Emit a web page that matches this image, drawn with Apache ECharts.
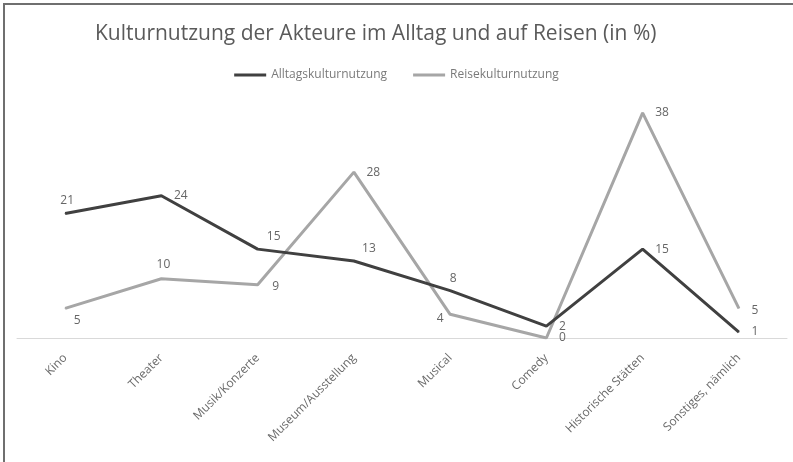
<!DOCTYPE html>
<html>
<head>
<meta charset="utf-8">
<script src="https://cdn.jsdelivr.net/npm/echarts@6/dist/echarts.min.js"></script>
<style>
  html, body { margin: 0; padding: 0; background: #fff; }
  #frame { position: absolute; left: 3px; top: 3px; width: 790px; height: 459px;
           border-left: 2px solid #6f6f6f; border-top: 2px solid #6f6f6f; box-sizing: border-box; }
  #chart { position: absolute; left: 0; top: 0; width: 793px; height: 462px; }
</style>
</head>
<body>
<div id="frame"></div>
<div id="chart"></div>
<script>
// Kategorien und Werte (in %)
const categories = ['Kino', 'Theater', 'Musik/Konzerte', 'Museum/Ausstellung', 'Musical', 'Comedy', 'Historische Stätten', 'Sonstiges, nämlich'];
const alltag = [21, 24, 15, 13, 8, 2, 15, 1];
const reise = [5, 10, 9, 28, 4, 0, 38, 5];

// Position der Datenbeschriftungen je Punkt
const alltagLabelPos = ['top', 'right', 'top', 'top', 'top', 'right', 'right', 'right'];
const alltagLabelShift = [[2, 0], [0, 0], [16, 0], [15, 0], [3, 0], [0, 0], [0, 0], [0, 0]];
const reiseLabelPos = ['bottom', 'top', 'right', 'right', 'left', 'right', 'right', 'right'];
const reiseLabelShift = [[12, 0], [2, -2], [2, 2], [0, 0], [0, 4], [0, 0], [0, 0], [0, 2]];

const labelStyle = { color: '#666666', fontSize: 12, fontFamily: 'Open Sans' };

function withLabels(values, positions, shifts) {
  return values.map((v, i) => ({
    value: v,
    label: { position: positions[i], offset: shifts[i], distance: positions[i] === 'right' ? 12 : 6 }
  }));
}

const chart = echarts.init(document.getElementById('chart'), null, { renderer: 'canvas' });
chart.setOption({
  backgroundColor: 'transparent',
  animation: false,
  title: {
    text: 'Kulturnutzung der Akteure im Alltag und auf Reisen (in %)',
    left: 90,
    top: 19,
    textStyle: { color: '#5a5a5a', fontSize: 21, fontWeight: 'normal', fontFamily: 'Open Sans' }
  },
  legend: {
    top: 64,
    left: 'center',
    itemWidth: 32,
    itemHeight: 3,
    itemGap: 26,
    icon: 'rect',
    textStyle: { color: '#7a7a7a', fontSize: 12, fontFamily: 'Open Sans' },
    data: ['Alltagskulturnutzung', 'Reisekulturnutzung']
  },
  grid: { left: 17, right: 6, top: 101, bottom: 124 },
  xAxis: {
    type: 'category',
    data: categories,
    boundaryGap: true,
    axisLine: { lineStyle: { color: '#d9d9d9', width: 1 } },
    axisTick: { show: false },
    axisLabel: { rotate: 45, color: '#6a6a6a', fontSize: 12, fontFamily: 'Open Sans', margin: 18, interval: 0 }
  },
  yAxis: {
    type: 'value',
    min: 0, max: 40, interval: 10,
    show: false,
    splitLine: { show: false }
  },
  series: [
    {
      name: 'Alltagskulturnutzung',
      type: 'line',
      data: withLabels(alltag, alltagLabelPos, alltagLabelShift),
      symbol: 'circle',
      symbolSize: 1,
      showSymbol: true,
      lineStyle: { color: '#404040', width: 3 },
      itemStyle: { color: '#404040' },
      label: Object.assign({ show: true }, labelStyle),
      z: 3
    },
    {
      name: 'Reisekulturnutzung',
      type: 'line',
      data: withLabels(reise, reiseLabelPos, reiseLabelShift),
      symbol: 'circle',
      symbolSize: 1,
      showSymbol: true,
      lineStyle: { color: '#a6a6a6', width: 3 },
      itemStyle: { color: '#a6a6a6' },
      label: Object.assign({ show: true }, labelStyle),
      z: 2
    }
  ]
});
</script>
</body>
</html>
